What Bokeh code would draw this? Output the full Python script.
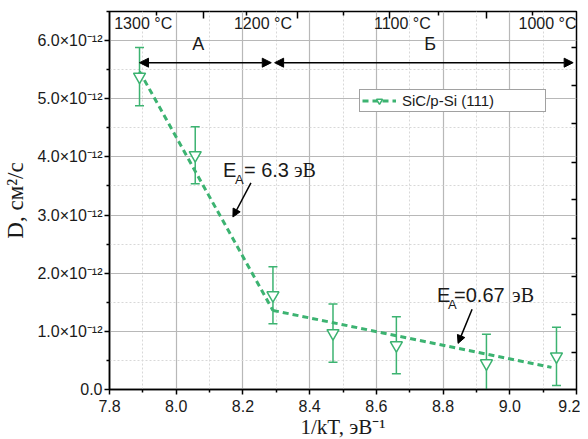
from bokeh.plotting import figure
from bokeh.models import (ColumnDataSource, Whisker, TeeHead, Arrow, NormalHead, Label,
                          LinearAxis, FixedTicker, Range1d, Legend, LegendItem)
from bokeh.embed import file_html
from bokeh.resources import INLINE

# ---- data (D in units of 1e-12 cm^2/s) ----
inv_kT = [7.89, 8.057, 8.29, 8.47, 8.66, 8.93, 9.14]
D = [5.38, 4.03, 1.62, 0.97, 0.76, 0.45, 0.57]
D_err = [0.50, 0.49, 0.49, 0.50, 0.49, 0.50, 0.50]

fit_A_x = [7.89, 8.29]
fit_A_y = [5.47, 1.36]
fit_B_x = [8.29, 9.125]
fit_B_y = [1.36, 0.38]

y_ticks = [0, 1, 2, 3, 4, 5, 6]
y_tick_labels = ["0.0", "1.0×10⁻¹²", "2.0×10⁻¹²", "3.0×10⁻¹²", "4.0×10⁻¹²", "5.0×10⁻¹²", "6.0×10⁻¹²"]
y_minor = [0.5, 1.5, 2.5, 3.5, 4.5, 5.5, 6.5]
x_ticks = [7.8, 8.0, 8.2, 8.4, 8.6, 8.8, 9.0, 9.2]
x_tick_labels = ["7.8", "8.0", "8.2", "8.4", "8.6", "8.8", "9.0", "9.2"]
x_minor = [7.9, 8.1, 8.3, 8.5, 8.7, 8.9, 9.1]

temp_labels = ["1300 °C", "1200 °C", "1100 °C", "1000 °C"]
temp_pos = [7.901, 8.260, 8.678, 9.113]
top_major = [8.081, 8.364, 8.639, 8.931]
top_minor = [7.940, 8.212, 8.501, 8.785, 9.069]
right_ticks = [0.64, 1.29, 1.95, 2.60, 3.26, 3.91, 4.57, 5.22, 5.88]

region_labels = ["А", "Б"]
region_pos = [8.066, 8.761]
region_A = [7.89, 8.285]
region_B = [8.295, 9.19]
region_y = 5.62

GREEN = "#3cb371"
SANS = "Liberation Sans"
SERIF = "Liberation Serif"
INK = "#1a1a1a"

p = figure(width=580, height=441, output_backend="svg", toolbar_location=None,
           x_range=Range1d(7.8, 9.2), y_range=Range1d(0, 6.5),
           min_border_left=99, min_border_right=4, min_border_top=11, min_border_bottom=3)
p.background_fill_color = "white"
p.outline_line_color = "black"
p.outline_line_width = 1.5

# axes
p.xaxis.ticker = FixedTicker(ticks=x_ticks, minor_ticks=x_minor)
p.xaxis.major_label_overrides = {float(t): l for t, l in zip(x_ticks, x_tick_labels)}
p.yaxis.ticker = FixedTicker(ticks=y_ticks, minor_ticks=y_minor)
p.yaxis.major_label_overrides = {float(t): l for t, l in zip(y_ticks, y_tick_labels)}
for ax in (p.xaxis[0], p.yaxis[0]):
    ax.axis_line_width = 1.5
    ax.axis_line_color = "black"
    ax.major_tick_in = 0
    ax.major_tick_out = 5
    ax.minor_tick_in = 0
    ax.minor_tick_out = 3
    ax.major_tick_line_width = 1.5
    ax.minor_tick_line_width = 1.5
    ax.major_label_text_font = SANS
    ax.major_label_text_font_size = "16px"
    ax.major_label_text_color = INK
    ax.axis_label_text_font = SERIF
    ax.axis_label_text_font_size = "21px"
    ax.axis_label_text_font_style = "normal"
    ax.axis_label_text_color = INK
p.xaxis.axis_label = "1/kT, эВ⁻¹"
p.yaxis.axis_label = "D, см²/с"
p.yaxis.axis_label_text_font_size = "23px"
p.xaxis.major_label_standoff = 5
p.xaxis.axis_label_standoff = 0
p.yaxis.major_label_standoff = 2
p.yaxis.axis_label_standoff = 6

# top axis (temperature ticks, unlabeled)
top = LinearAxis(ticker=FixedTicker(ticks=top_major, minor_ticks=top_minor),
                 major_label_overrides={t: "" for t in top_major},
                 major_label_text_color=None, major_label_text_font_size="1px",
                 major_label_standoff=0,
                 major_tick_in=7, major_tick_out=0,
                 minor_tick_in=4, minor_tick_out=0, axis_line_color=None,
                 major_tick_line_width=1.5, minor_tick_line_width=1.5)
p.add_layout(top, "above")
right = LinearAxis(ticker=FixedTicker(ticks=right_ticks, minor_ticks=[]),
                   major_label_overrides={t: "" for t in right_ticks},
                   major_label_text_color=None, major_label_text_font_size="1px",
                   major_label_standoff=0,
                   major_tick_in=5, major_tick_out=0,
                   axis_line_color=None, major_tick_line_width=1.5)
p.add_layout(right, "right")

# grid
for g in (p.xgrid[0], p.ygrid[0]):
    g.grid_line_color = "#b8b8b8"
    g.grid_line_width = 1.2
    g.minor_grid_line_color = "#d8d8d8"
    g.minor_grid_line_dash = "2 2"
    g.minor_grid_line_width = 1

src = ColumnDataSource(dict(x=inv_kT, y=D,
                            upper=[d + e for d, e in zip(D, D_err)],
                            lower=[d - e for d, e in zip(D, D_err)]))

# fit lines
l1 = p.line(fit_A_x, fit_A_y, line_color=GREEN, line_width=3, line_dash="6 4")
p.line(fit_B_x, fit_B_y, line_color=GREEN, line_width=3, line_dash="6 4")

# error bars
wh = Whisker(source=src, base="x", upper="upper", lower="lower",
             line_color=GREEN, line_width=1.5,
             upper_head=TeeHead(size=9, line_color=GREEN, line_width=1.5),
             lower_head=TeeHead(size=9, line_color=GREEN, line_width=1.5))
p.add_layout(wh)

sc = p.scatter("x", "y", source=src, marker="inverted_triangle", size=12,
               fill_color="white", line_color=GREEN, line_width=1.5)

# legend
legend = Legend(items=[LegendItem(label="SiC/p-Si (111)", renderers=[l1, sc])],
                location=(250, 277), label_text_font=SANS, label_text_font_size="15px",
                label_text_color=INK, padding=2, margin=0, glyph_width=34,
                glyph_height=15, label_height=15, label_standoff=6, label_width=141,
                border_line_color="#444444", border_line_width=1,
                background_fill_alpha=1)
p.add_layout(legend, "center")

# temperature labels
for t, xp in zip(temp_labels, temp_pos):
    p.add_layout(Label(x=xp, y=6.14, text=t, text_align="center", text_font=SANS,
                       text_font_size="16px", text_color=INK))

# region arrows & labels
head = dict(size=9, fill_color="black", line_color="black")
p.add_layout(Arrow(x_start=region_A[0], y_start=region_y, x_end=region_A[1], y_end=region_y,
                   start=NormalHead(**head), end=NormalHead(**head), line_width=1.5))
p.add_layout(Arrow(x_start=region_B[0], y_start=region_y, x_end=region_B[1], y_end=region_y,
                   start=NormalHead(**head), end=NormalHead(**head), line_width=1.5))
for t, xp in zip(region_labels, region_pos):
    p.add_layout(Label(x=xp, y=5.776, text=t, text_align="center", text_font=SANS,
                       text_font_size="18px", text_color=INK))

# activation energy annotations
def ea_label(x, y, value, sub_dx, val_dx, ev_dx):
    p.add_layout(Label(x=x, y=y, text="E", text_font=SANS, text_font_size="20px", text_color=INK))
    p.add_layout(Label(x=x, y=y, x_offset=sub_dx, y_offset=-6, text="A", text_font=SANS,
                       text_font_size="13px", text_color=INK))
    p.add_layout(Label(x=x, y=y, x_offset=val_dx, text=value, text_font=SANS,
                       text_font_size="20px", text_color=INK))
    p.add_layout(Label(x=x, y=y, x_offset=ev_dx, text="эВ", text_font=SERIF,
                       text_font_size="20px", text_color=INK))

ea_label(8.140, 3.586, "= 6.3", 12, 21, 71)
ea_label(8.782, 1.431, "=0.67", 11, 17, 75)

ahead = dict(size=8, fill_color="black", line_color="black")
p.add_layout(Arrow(x_start=8.224, y_start=3.552, x_end=8.170, y_end=2.966,
                   end=NormalHead(**ahead), line_width=1.5))
p.add_layout(Arrow(x_start=8.887, y_start=1.379, x_end=8.845, y_end=0.793,
                   end=NormalHead(**ahead), line_width=1.5))

open("out.html", "w").write(file_html(p, INLINE))
